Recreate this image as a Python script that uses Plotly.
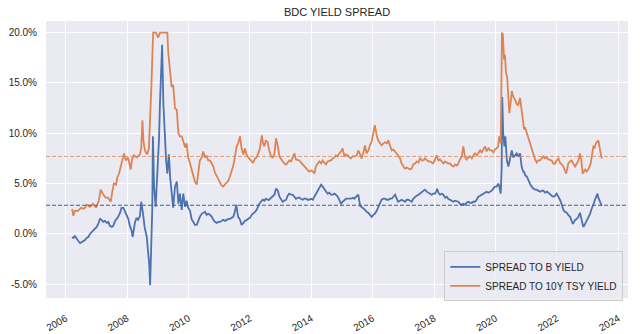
import pandas as pd
import plotly.graph_objects as go

# ---------------- data (decimal years, values in %) ----------------
b_years = [2006.21, 2006.25, 2006.30, 2006.36, 2006.41, 2006.47, 2006.52, 2006.57, 2006.63, 2006.68,
           2006.74, 2006.79, 2006.85, 2006.90, 2006.95, 2007.01, 2007.06, 2007.12, 2007.17, 2007.22,
           2007.28, 2007.34, 2007.39, 2007.44, 2007.50, 2007.55, 2007.61, 2007.66, 2007.71, 2007.77,
           2007.82, 2007.88, 2007.93, 2007.99, 2008.04, 2008.09, 2008.15, 2008.18, 2008.20, 2008.26,
           2008.31, 2008.36, 2008.42, 2008.46, 2008.52, 2008.57, 2008.64, 2008.69, 2008.72, 2008.75,
           2008.77, 2008.80, 2008.82, 2008.84, 2008.88, 2008.93, 2008.98, 2009.04, 2009.07, 2009.11,
           2009.14, 2009.18, 2009.22, 2009.27, 2009.31, 2009.36, 2009.40, 2009.45, 2009.50, 2009.56,
           2009.62, 2009.67, 2009.72, 2009.78, 2009.83, 2009.89, 2009.94, 2009.99, 2010.05, 2010.10,
           2010.16, 2010.21, 2010.27, 2010.32, 2010.37, 2010.43, 2010.48, 2010.54, 2010.59, 2010.64,
           2010.70, 2010.76, 2010.81, 2010.86, 2010.92, 2010.97, 2011.03, 2011.08, 2011.13, 2011.19,
           2011.24, 2011.30, 2011.35, 2011.41, 2011.46, 2011.51, 2011.56, 2011.60, 2011.62, 2011.68,
           2011.73, 2011.79, 2011.84, 2011.90, 2011.95, 2012.00, 2012.06, 2012.11, 2012.17, 2012.22,
           2012.26, 2012.31, 2012.36, 2012.42, 2012.47, 2012.52, 2012.58, 2012.63, 2012.69, 2012.74,
           2012.80, 2012.85, 2012.91, 2012.96, 2013.01, 2013.07, 2013.12, 2013.18, 2013.23, 2013.28,
           2013.34, 2013.39, 2013.45, 2013.50, 2013.56, 2013.61, 2013.66, 2013.72, 2013.77, 2013.83,
           2013.88, 2013.93, 2013.99, 2014.05, 2014.10, 2014.15, 2014.21, 2014.26, 2014.32, 2014.37,
           2014.42, 2014.48, 2014.53, 2014.59, 2014.64, 2014.70, 2014.75, 2014.80, 2014.86, 2014.91,
           2014.97, 2015.02, 2015.08, 2015.13, 2015.19, 2015.24, 2015.29, 2015.35, 2015.40, 2015.46,
           2015.53, 2015.59, 2015.64, 2015.69, 2015.75, 2015.80, 2015.86, 2015.91, 2015.97, 2016.02,
           2016.07, 2016.13, 2016.18, 2016.24, 2016.29, 2016.35, 2016.40, 2016.46, 2016.51, 2016.56,
           2016.62, 2016.67, 2016.73, 2016.78, 2016.83, 2016.89, 2016.94, 2017.00, 2017.05, 2017.11,
           2017.16, 2017.22, 2017.27, 2017.32, 2017.38, 2017.43, 2017.49, 2017.54, 2017.60, 2017.65,
           2017.70, 2017.76, 2017.81, 2017.87, 2017.92, 2017.97, 2018.03, 2018.08, 2018.10, 2018.14,
           2018.19, 2018.25, 2018.30, 2018.36, 2018.41, 2018.46, 2018.52, 2018.57, 2018.63, 2018.68,
           2018.74, 2018.79, 2018.84, 2018.90, 2018.95, 2019.01, 2019.06, 2019.11, 2019.17, 2019.23,
           2019.28, 2019.33, 2019.39, 2019.44, 2019.50, 2019.55, 2019.60, 2019.66, 2019.71, 2019.77,
           2019.82, 2019.88, 2019.93, 2019.98, 2020.04, 2020.09, 2020.12, 2020.17, 2020.20, 2020.22,
           2020.25, 2020.29, 2020.32, 2020.37, 2020.42, 2020.47, 2020.53, 2020.58, 2020.64, 2020.69,
           2020.74, 2020.80, 2020.85, 2020.91, 2020.93, 2020.97, 2021.02, 2021.07, 2021.12, 2021.18,
           2021.23, 2021.29, 2021.34, 2021.39, 2021.45, 2021.51, 2021.56, 2021.61, 2021.67, 2021.72,
           2021.78, 2021.83, 2021.88, 2021.94, 2021.99, 2022.05, 2022.10, 2022.16, 2022.21, 2022.26,
           2022.32, 2022.37, 2022.43, 2022.48, 2022.52, 2022.56, 2022.59, 2022.65, 2022.70, 2022.75,
           2022.81, 2022.86, 2022.92, 2022.97, 2023.02, 2023.08, 2023.12, 2023.17, 2023.21, 2023.24,
           2023.28, 2023.32, 2023.35, 2023.38, 2023.42, 2023.46]
b_vals = [-0.3, -0.4, -0.2, -0.5, -0.7, -0.9, -0.8, -0.7, -0.6, -0.4,
          -0.3, 0.0, 0.2, 0.3, 0.5, 0.7, 1.0, 1.5, 1.4, 1.2,
          1.3, 1.1, 1.2, 0.8, 0.7, 0.8, 1.3, 1.5, 1.7, 2.1,
          2.6, 2.6, 2.2, 1.8, 1.5, 0.8, 0.3, -0.3, 0.2, 1.2,
          1.6, 1.4, 1.8, 3.2, 2.0, 0.7, -0.3, -1.6, -3.0, -5.1,
          -2.5, 0.0, 2.5, 9.7, 4.6, 2.7, 5.7, 9.5, 13.0, 17.9,
          18.8, 13.0, 10.3, 7.3, 6.0, 7.9, 5.7, 4.0, 2.6, 4.7,
          5.2, 3.0, 4.0, 2.4, 4.0, 2.7, 3.3, 2.6, 2.3, 1.5,
          1.2, 0.9, 0.9, 1.4, 1.7, 2.0, 2.1, 2.2, 1.9, 2.0,
          1.9, 1.7, 1.4, 1.2, 1.1, 1.2, 1.2, 1.3, 1.4, 1.3,
          1.4, 1.5, 1.5, 1.6, 1.7, 2.2, 2.9, 2.0, 1.7, 1.4,
          0.9, 1.1, 1.3, 1.4, 1.5, 1.6, 1.9, 2.0, 2.2, 2.4,
          2.7, 3.0, 3.2, 3.4, 3.3, 3.5, 3.4, 3.4, 3.6, 3.7,
          3.9, 4.5, 4.3, 3.7, 3.4, 3.2, 3.3, 3.4, 3.8, 4.0,
          3.9, 3.9, 3.7, 3.5, 3.6, 3.6, 3.5, 3.4, 3.5, 3.5,
          3.4, 3.4, 3.5, 3.4, 3.7, 4.0, 4.4, 4.7, 4.9, 4.7,
          4.5, 4.3, 4.0, 4.1, 3.9, 3.9, 4.0, 3.9, 3.7, 3.4,
          3.0, 3.2, 3.4, 3.5, 3.5, 3.5, 3.5, 3.6, 3.5, 3.7,
          3.9, 2.8, 2.7, 2.6, 2.4, 2.2, 2.1, 1.9, 1.7, 1.9,
          2.0, 2.3, 2.6, 3.0, 3.4, 3.5, 3.5, 3.4, 3.4, 3.5,
          3.5, 3.7, 3.9, 3.5, 3.2, 3.3, 3.4, 3.3, 3.2, 3.4,
          3.4, 3.3, 3.2, 3.5, 3.7, 3.8, 3.9, 4.0, 4.2, 4.3,
          4.4, 4.2, 4.1, 4.0, 3.9, 4.0, 4.0, 4.3, 4.5, 4.1,
          3.9, 4.0, 3.9, 3.6, 3.7, 3.5, 3.4, 3.3, 3.2, 3.3,
          3.2, 3.2, 3.0, 2.9, 3.0, 2.9, 3.1, 3.2, 3.1, 3.1,
          3.2, 3.2, 3.4, 3.7, 3.8, 3.9, 4.0, 4.1, 4.2, 4.1,
          4.2, 4.3, 4.5, 4.7, 4.7, 5.0, 4.8, 4.0, 6.4, 13.6,
          10.0, 8.7, 9.7, 7.3, 6.7, 7.3, 8.3, 7.6, 7.8, 8.0,
          7.7, 8.0, 6.7, 6.1, 6.2, 5.8, 5.7, 5.3, 5.0, 4.7,
          4.5, 4.4, 4.4, 4.3, 4.2, 4.3, 4.3, 4.1, 4.2, 4.1,
          3.9, 3.8, 3.7, 3.8, 4.0, 3.7, 3.4, 2.9, 2.4, 2.2,
          2.1, 1.9, 1.7, 1.3, 1.0, 1.2, 1.4, 1.5, 1.7, 2.1,
          1.2, 0.7, 1.0, 1.3, 1.6, 2.0, 2.4, 2.7, 3.1, 3.4,
          3.7, 4.0, 3.6, 3.4, 3.0, 2.8]

t_years = [2006.21, 2006.25, 2006.30, 2006.40, 2006.50, 2006.60, 2006.69, 2006.79, 2006.89, 2006.99,
           2007.08, 2007.14, 2007.21, 2007.30, 2007.38, 2007.47, 2007.51, 2007.57, 2007.64, 2007.68,
           2007.74, 2007.80, 2007.84, 2007.90, 2007.96, 2008.03, 2008.12, 2008.16, 2008.22, 2008.32,
           2008.42, 2008.46, 2008.50, 2008.53, 2008.58, 2008.65, 2008.71, 2008.75, 2008.79, 2008.82,
           2008.85, 2008.94, 2009.01, 2009.07, 2009.17, 2009.31, 2009.34, 2009.40, 2009.45, 2009.50,
           2009.56, 2009.62, 2009.67, 2009.72, 2009.78, 2009.83, 2009.89, 2009.94, 2009.99, 2010.05,
           2010.10, 2010.16, 2010.21, 2010.27, 2010.32, 2010.37, 2010.43, 2010.48, 2010.54, 2010.59,
           2010.64, 2010.70, 2010.76, 2010.81, 2010.86, 2010.92, 2010.97, 2011.03, 2011.08, 2011.13,
           2011.19, 2011.24, 2011.30, 2011.35, 2011.41, 2011.46, 2011.51, 2011.57, 2011.62, 2011.68,
           2011.73, 2011.79, 2011.84, 2011.90, 2011.95, 2012.00, 2012.06, 2012.11, 2012.17, 2012.22,
           2012.26, 2012.31, 2012.35, 2012.39, 2012.43, 2012.47, 2012.52, 2012.58, 2012.63, 2012.69,
           2012.74, 2012.80, 2012.85, 2012.91, 2012.96, 2013.01, 2013.07, 2013.12, 2013.18, 2013.23,
           2013.28, 2013.34, 2013.39, 2013.45, 2013.50, 2013.56, 2013.61, 2013.66, 2013.72, 2013.77,
           2013.83, 2013.88, 2013.93, 2013.99, 2014.05, 2014.10, 2014.15, 2014.21, 2014.26, 2014.32,
           2014.37, 2014.42, 2014.48, 2014.53, 2014.59, 2014.64, 2014.70, 2014.75, 2014.80, 2014.86,
           2014.91, 2014.97, 2015.02, 2015.08, 2015.13, 2015.19, 2015.24, 2015.29, 2015.35, 2015.42,
           2015.48, 2015.53, 2015.59, 2015.64, 2015.69, 2015.75, 2015.80, 2015.86, 2015.91, 2015.97,
           2016.00, 2016.04, 2016.07, 2016.13, 2016.18, 2016.24, 2016.29, 2016.35, 2016.40, 2016.46,
           2016.51, 2016.56, 2016.62, 2016.67, 2016.73, 2016.78, 2016.83, 2016.89, 2016.94, 2017.00,
           2017.05, 2017.11, 2017.16, 2017.22, 2017.27, 2017.32, 2017.38, 2017.43, 2017.49, 2017.54,
           2017.60, 2017.65, 2017.70, 2017.76, 2017.81, 2017.87, 2017.92, 2017.97, 2018.03, 2018.08,
           2018.14, 2018.19, 2018.25, 2018.30, 2018.36, 2018.41, 2018.46, 2018.52, 2018.57, 2018.63,
           2018.68, 2018.74, 2018.79, 2018.84, 2018.90, 2018.95, 2019.01, 2019.06, 2019.11, 2019.17,
           2019.23, 2019.28, 2019.33, 2019.39, 2019.44, 2019.50, 2019.55, 2019.60, 2019.66, 2019.71,
           2019.77, 2019.82, 2019.88, 2019.93, 2019.98, 2020.04, 2020.09, 2020.12, 2020.17, 2020.19,
           2020.21, 2020.24, 2020.28, 2020.31, 2020.34, 2020.38, 2020.42, 2020.45, 2020.49, 2020.53,
           2020.58, 2020.64, 2020.69, 2020.74, 2020.80, 2020.85, 2020.90, 2020.93, 2020.97, 2021.02,
           2021.07, 2021.12, 2021.18, 2021.23, 2021.29, 2021.34, 2021.39, 2021.45, 2021.51, 2021.56,
           2021.61, 2021.67, 2021.72, 2021.78, 2021.83, 2021.88, 2021.94, 2021.99, 2022.05, 2022.10,
           2022.16, 2022.21, 2022.26, 2022.30, 2022.34, 2022.37, 2022.43, 2022.48, 2022.53, 2022.59,
           2022.65, 2022.70, 2022.75, 2022.80, 2022.84, 2022.88, 2022.92, 2022.97, 2023.02, 2023.08,
           2023.10, 2023.14, 2023.19, 2023.23, 2023.27, 2023.32, 2023.35, 2023.38, 2023.40, 2023.44,
           2023.47]
t_vals = [2.5, 1.8, 2.3, 2.3, 2.6, 2.5, 2.9, 2.7, 3.0, 2.6,
          3.3, 4.4, 4.0, 3.6, 3.6, 3.2, 4.0, 5.0, 4.9, 5.6,
          6.0, 6.7, 7.2, 8.0, 7.3, 7.6, 6.4, 7.4, 7.8, 7.6,
          7.9, 8.5, 11.3, 9.3, 8.3, 7.9, 8.5, 11.0, 14.6, 17.5,
          20.0, 20.0, 19.5, 20.0, 20.0, 20.0, 18.0, 16.3, 14.6, 14.8,
          12.5, 12.3, 10.0, 9.7, 9.7, 9.2, 8.6, 9.0, 7.6, 7.0,
          6.5, 5.7, 5.2, 4.9, 6.0, 7.3, 7.6, 8.2, 7.6, 7.8,
          7.3, 7.3, 7.0, 6.7, 6.1, 5.7, 5.4, 5.0, 4.8, 4.7,
          4.9, 5.0, 5.3, 5.7, 6.2, 6.8, 7.6, 8.7, 9.0, 9.7,
          8.5, 7.9, 8.5, 7.8, 7.6, 7.4, 7.2, 7.1, 7.5, 7.6,
          7.9, 8.3, 9.0, 9.8, 9.0, 8.7, 9.3, 9.1, 8.3, 7.7,
          7.6, 8.0, 9.5, 8.7, 7.7, 7.4, 7.2, 7.0, 6.9, 7.1,
          7.3, 7.2, 7.5, 8.0, 7.4, 7.3, 7.3, 7.1, 6.9, 6.7,
          6.5, 6.3, 6.2, 6.3, 6.2, 6.0, 6.7, 7.0, 7.2, 7.0,
          7.3, 7.1, 6.9, 7.2, 7.3, 7.3, 7.5, 7.6, 7.8, 7.7,
          8.0, 8.2, 8.5, 7.7, 7.9, 7.8, 7.6, 7.5, 7.7, 7.7,
          7.8, 8.3, 7.9, 7.5, 8.0, 8.8, 8.0, 8.3, 8.8, 9.2,
          9.7, 10.3, 10.8, 9.8, 9.3, 9.0, 8.8, 9.0, 9.1, 9.0,
          9.3, 8.8, 8.3, 8.4, 8.2, 8.0, 7.8, 7.5, 7.0, 6.7,
          6.5, 6.6, 6.5, 6.4, 6.5, 6.9, 7.0, 7.2, 7.1, 7.5,
          7.3, 7.3, 7.5, 7.3, 7.2, 7.2, 7.1, 7.0, 7.4, 7.8,
          7.3, 7.4, 7.2, 7.0, 7.2, 7.1, 7.0, 7.0, 6.8, 6.7,
          6.9, 6.8, 7.0, 7.4, 7.7, 8.7, 7.6, 7.4, 7.6, 7.7,
          7.5, 7.8, 8.0, 7.8, 8.0, 8.3, 8.1, 8.4, 8.7, 8.2,
          8.5, 8.3, 8.3, 8.1, 8.4, 8.5, 8.7, 9.7, 9.0, 14.0,
          20.0, 19.8, 17.3, 17.8, 16.0, 15.6, 14.0, 12.0, 13.0, 14.2,
          13.6, 13.3, 12.9, 12.8, 13.5, 12.4, 11.0, 10.4, 10.5, 10.0,
          9.5, 8.9, 8.3, 7.8, 7.4, 7.1, 7.3, 7.3, 7.5, 7.7,
          7.5, 7.6, 7.4, 7.3, 7.3, 7.0, 7.0, 7.3, 7.5, 7.1,
          6.9, 6.7, 6.3, 6.0, 6.5, 7.0, 7.2, 7.3, 7.0, 6.7,
          7.0, 7.3, 8.0, 7.2, 6.0, 6.3, 6.4, 6.2, 6.4, 6.8,
          7.0, 7.8, 8.7, 8.6, 9.0, 9.2, 9.3, 8.8, 8.3, 7.8,
          7.5]

b_avg = 2.85   # dashed reference level, B-yield spread
t_avg = 7.7    # dashed reference level, 10Y TSY spread

series_names = ["SPREAD TO B YIELD", "SPREAD TO 10Y TSY YIELD"]
x_tick_years = [2006, 2008, 2010, 2012, 2014, 2016, 2018, 2020, 2022, 2024]
y_tick_vals = [-5, 0, 5, 10, 15, 20]
y_tick_text = ["-5.0%", "0.0%", "5.0%", "10.0%", "15.0%", "20.0%"]
title_text = "BDC YIELD SPREAD"

BLUE = "#4C72B0"
ORANGE = "#DD8452"
TXT = "#262626"
FONT = "Liberation Sans, Arial, sans-serif"


def to_dt(y):
    yr = int(y)
    start = pd.Timestamp(year=yr, month=1, day=1)
    end = pd.Timestamp(year=yr + 1, month=1, day=1)
    return start + (end - start) * (y - yr)


b_dates = [to_dt(v) for v in b_years]
t_dates = [to_dt(v) for v in t_years]

fig = go.Figure()
fig.add_trace(go.Scatter(x=b_dates, y=b_vals, mode="lines", name=series_names[0],
                         line=dict(color=BLUE, width=1.8)))
fig.add_trace(go.Scatter(x=t_dates, y=t_vals, mode="lines", name=series_names[1],
                         line=dict(color=ORANGE, width=1.8)))

fig.add_hline(y=b_avg, line=dict(color="#3F5F9E", width=1, dash="4px,2px"))
fig.add_hline(y=t_avg, line=dict(color=ORANGE, width=1, dash="4px,2px"), opacity=0.75)

fig.update_layout(
    width=640, height=334, autosize=False,
    margin=dict(l=46, r=12, t=21, b=36, autoexpand=False),
    paper_bgcolor="white",
    plot_bgcolor="#EAEAF2",
    font=dict(family=FONT, size=10, color=TXT),
    title=dict(text=title_text, x=0.5, xref="paper", xanchor="center",
               y=1 - 12 / 334, yref="container", yanchor="middle",
               font=dict(family=FONT, size=11, color=TXT)),
    showlegend=True,
    legend=dict(x=0.992, xanchor="right", y=-0.012, yanchor="bottom",
                bgcolor="rgba(234,234,242,0.8)", bordercolor="#CCCCCC", borderwidth=1,
                font=dict(family=FONT, size=10, color=TXT),
                tracegroupgap=0, itemwidth=30),
)

fig.update_xaxes(
    type="date",
    range=[to_dt(2005.358), to_dt(2024.316)],
    tickvals=[to_dt(y) for y in x_tick_years],
    ticktext=[str(y) for y in x_tick_years],
    tickangle=-30,
    showgrid=True, gridcolor="white", gridwidth=1,
    zeroline=False, showline=False, automargin=False,
    ticks="", ticklabelstandoff=12,
    tickfont=dict(family=FONT, size=10, color=TXT),
)
fig.update_yaxes(
    range=[-6.36, 21.15],
    tickvals=y_tick_vals, ticktext=y_tick_text,
    showgrid=True, gridcolor="white", gridwidth=1,
    zeroline=False, showline=False, automargin=False,
    ticks="", ticklabelstandoff=8,
    tickfont=dict(family=FONT, size=10, color=TXT),
)

fig.write_html("out.html")
